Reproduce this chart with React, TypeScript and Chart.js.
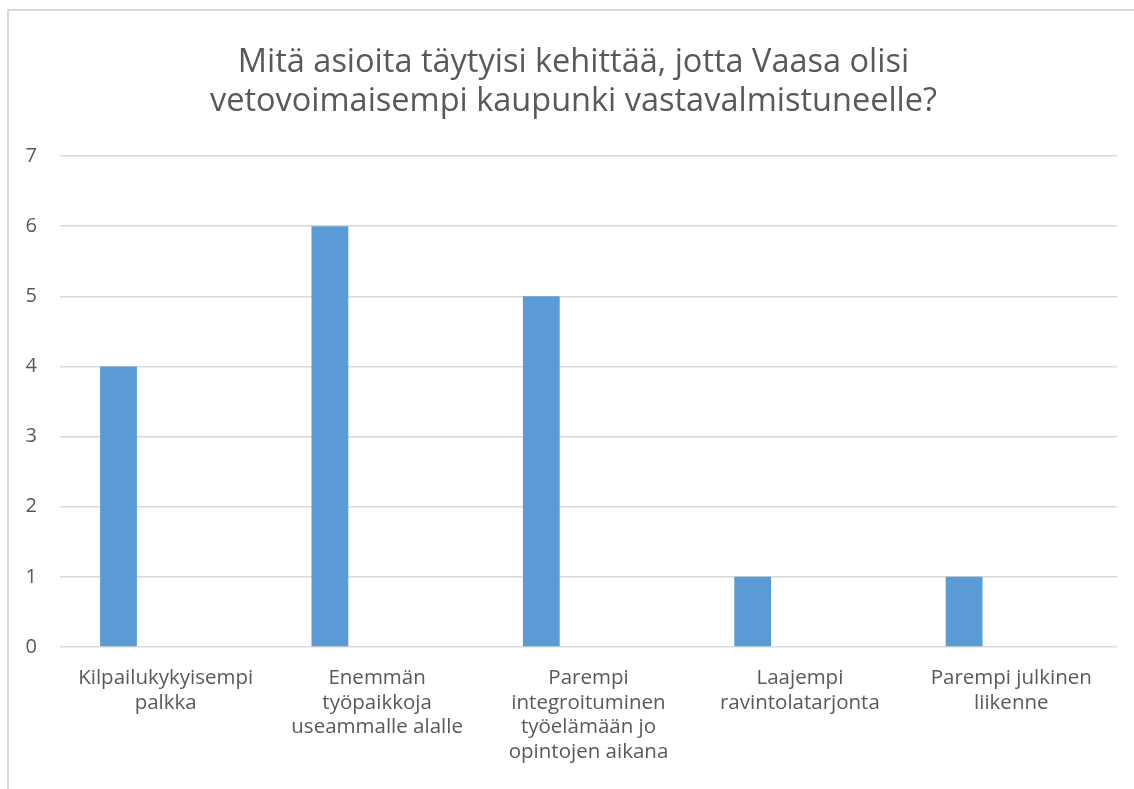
import React, { useEffect, useRef } from "react";
import { Chart, registerables } from "chart.js";

Chart.register(...registerables);

const titleLines = [
  "Mitä asioita täytyisi kehittää, jotta Vaasa olisi",
  "vetovoimaisempi kaupunki vastavalmistuneelle?",
];
const categories: string[][] = [
  ["Kilpailukykyisempi", "palkka"],
  ["Enemmän", "työpaikkoja", "useammalle alalle"],
  ["Parempi", "integroituminen", "työelämään jo", "opintojen aikana"],
  ["Laajempi", "ravintolatarjonta"],
  ["Parempi julkinen", "liikenne"],
];
const seriesValues = [4, 6, 5, 1, 1];
const emptySeries = [null, null, null, null, null];
const yTicks = [0, 1, 2, 3, 4, 5, 6, 7];

const FONT = "'Open Sans', Lato, sans-serif";
const TEXT = "#595959";
const GRID = "#d9d9d9";

const shiftTitle = {
  id: "shiftTitle",
  afterLayout(chart: any) {
    if (chart.titleBlock) {
      chart.titleBlock.left += 30;
    }
  },
};

export default function App() {
  const ref = useRef<HTMLCanvasElement | null>(null);
  useEffect(() => {
    if (!ref.current) return;
    const chart = new Chart(ref.current, {
      type: "bar",
      data: {
        labels: categories,
        datasets: [
          {
            label: "Vastaukset",
            data: seriesValues,
            backgroundColor: "#5B9BD5",
            borderWidth: 0,
          },
          {
            label: "",
            data: emptySeries as any,
            backgroundColor: "#ED7D31",
            borderWidth: 0,
          },
        ],
      },
      plugins: [shiftTitle],
      options: {
        responsive: false,
        animation: false,
        categoryPercentage: 0.893,
        barPercentage: 0.39,
        layout: { padding: { left: 0, right: 17, top: 0, bottom: 0 } },
        plugins: {
          legend: { display: false },
          tooltip: { enabled: false },
          title: {
            display: true,
            text: titleLines,
            color: TEXT,
            font: { family: FONT, size: 32.5, weight: "normal" },
            lineHeight: 1.24,
            padding: { top: 43, bottom: 35 },
          },
        },
        scales: {
          x: {
            grid: { display: false },
            border: { display: false },
            ticks: {
              color: TEXT,
              font: { family: FONT, size: 20.5, lineHeight: 1.2 },
              maxRotation: 0,
              autoSkip: false,
              padding: 11,
            },
            afterFit: (s: any) => {
              s.height = 142;
            },
          },
          y: {
            min: 0,
            max: 7,
            afterBuildTicks: (s: any) => {
              s.ticks = yTicks.map((v) => ({ value: v }));
            },
            grid: { color: GRID, lineWidth: 1.5, drawTicks: false },
            border: { display: false },
            ticks: {
              color: TEXT,
              font: { family: FONT, size: 20 },
              padding: 23,
            },
            afterFit: (s: any) => {
              s.width = 60;
            },
          },
        },
      },
    });
    return () => chart.destroy();
  }, []);

  return (
    <div
      style={{
        position: "fixed",
        left: 0,
        top: 0,
        width: 1134,
        height: 789,
        overflow: "hidden",
        background: "#fff",
      }}
    >
      <canvas ref={ref} width={1134} height={789} style={{ position: "absolute", left: 0, top: 0 }} />
      <div
        style={{
          position: "absolute",
          left: 7,
          top: 9,
          width: 1160,
          height: 820,
          border: "2px solid #d9d9d9",
          pointerEvents: "none",
        }}
      />
    </div>
  );
}
